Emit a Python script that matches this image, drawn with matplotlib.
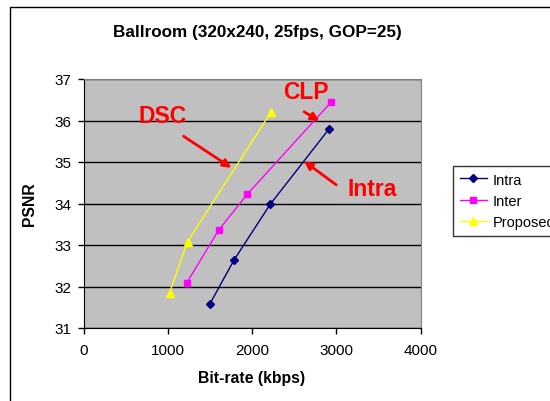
import matplotlib
matplotlib.use("Agg")
import matplotlib.pyplot as plt
from matplotlib.patches import Rectangle

plt.rcParams["font.family"] = ["Liberation Sans", "DejaVu Sans"]

# data
intra_rate = [1500, 1787, 2216, 2912]
intra_psnr = [31.58, 32.64, 33.98, 35.79]
inter_rate = [1223, 1605, 1942, 2943]
inter_psnr = [32.08, 33.36, 34.22, 36.45]
prop_rate = [1021, 1235, 2228]
prop_psnr = [31.85, 33.08, 36.21]

x_ticks = [0, 1000, 2000, 3000, 4000]
y_ticks = [31, 32, 33, 34, 35, 36, 37]

fig = plt.figure(figsize=(5.5, 4.02), dpi=100)
fig.patch.set_facecolor("white")

# outer chart frame (runs off the right/bottom edge as in the original)
fig.patches.append(Rectangle((10 / 550, -0.2), 1.2, 1.2 - 8 / 402,
                             transform=fig.transFigure, fill=False,
                             edgecolor="black", lw=1.0, clip_on=False))

ax = fig.add_axes([83.5 / 550, 1 - 329 / 402, 337 / 550, 249 / 402])
ax.set_facecolor("#C0C0C0")

ax.plot(intra_rate, intra_psnr, color="#000080", marker="D", ms=4, lw=1, label="Intra")
ax.plot(inter_rate, inter_psnr, color="#FF00FF", marker="s", ms=5, lw=1, label="Inter")
ax.plot(prop_rate, prop_psnr, color="#FFFF00", marker="^", ms=6, lw=1, label="Proposed")

ax.set_xlim(0, 4000)
ax.set_ylim(31, 37)
ax.set_xticks(x_ticks)
ax.set_yticks(y_ticks)
ax.yaxis.grid(True, color="black", lw=1)
ax.set_axisbelow(True)
ax.tick_params(labelsize=11, direction="out", length=4, width=1)
ax.tick_params(axis="x", pad=7)
ax.tick_params(axis="y", pad=5)
for s in ("top", "right"):
    ax.spines[s].set_color("#808080")

ax.set_xlabel("Bit-rate (kbps)", fontsize=11.3, fontweight="bold", labelpad=9)
ax.set_ylabel("PSNR", fontsize=11.3, fontweight="bold", labelpad=12)
fig.text(257 / 550, 1 - 33 / 402, "Ballroom (320x240, 25fps, GOP=25)",
         ha="center", va="center", fontsize=12.3, fontweight="bold")

arrow = dict(arrowstyle="-|>", color="red", lw=2, mutation_scale=12, shrinkA=0, shrinkB=0)
ax.text(941, 36.11, "DSC", color="red", fontsize=16.5, fontweight="bold", ha="center", va="center")
ax.annotate("", xy=(1756, 34.86), xytext=(1188, 35.62), arrowprops=arrow)
ax.text(2641, 36.69, "CLP", color="red", fontsize=16.5, fontweight="bold", ha="center", va="center")
ax.annotate("", xy=(2800, 35.99), xytext=(2618, 36.21), arrowprops=arrow)
ax.text(3424, 34.37, "Intra", color="red", fontsize=16.5, fontweight="bold", ha="center", va="center")
ax.annotate("", xy=(2618, 35.02), xytext=(2999, 34.45), arrowprops=arrow)

leg = fig.legend(loc="upper left", bbox_to_anchor=(453 / 550, 1 - 167 / 402),
                 fontsize=10.5, frameon=True, fancybox=False, borderpad=0.45,
                 handlelength=1.85, handletextpad=0.4, labelspacing=0.5,
                 borderaxespad=0)
leg.get_frame().set_edgecolor("black")
leg.get_frame().set_linewidth(1)

fig.savefig("out.png", dpi=100)
